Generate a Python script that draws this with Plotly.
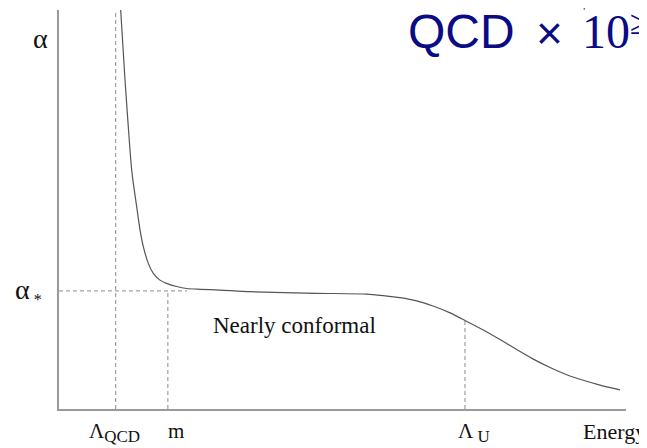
import plotly.graph_objects as go

# ---- data (arbitrary units) ----
energy = [1.088, 1.164, 1.252, 1.282, 1.310, 1.370, 1.429, 1.487, 1.575, 1.663, 1.781,
          1.899, 2.076, 2.252, 2.487, 2.840, 3.369, 4.545, 5.427, 5.720, 6.014, 6.309,
          6.596, 6.896, 7.160, 7.483, 7.778, 8.072, 8.365, 8.660, 8.954, 9.247, 9.541, 9.894]
alpha = [1.000, 0.825, 0.649, 0.599, 0.566, 0.507, 0.449, 0.407, 0.365, 0.340, 0.323,
         0.315, 0.307, 0.302, 0.300, 0.298, 0.294, 0.290, 0.288, 0.284, 0.279, 0.271,
         0.258, 0.241, 0.222, 0.198, 0.174, 0.149, 0.125, 0.104, 0.086, 0.072, 0.060, 0.048]

LAMBDA_QCD = 1.0
M_SCALE = 1.92
LAMBDA_U = 7.16
ALPHA_STAR = 0.296
ALPHA_AT_LU = 0.222
ALPHA_MEET = 2.26   # where the alpha_* guide meets the curve
X_MAX = 10.0
Y_MAX = 1.0
LABEL_X = 4.16      # centre of the "Nearly conformal" note

tick_vals = [LAMBDA_QCD, M_SCALE, LAMBDA_U]
tick_text = ["Λ<sub><span style='font-size:17px'>QCD</span></sub>", "m",
             "Λ<sub><span style='font-size:17px'> U</span></sub>"]

SERIF = "Liberation Serif, Times New Roman, serif"
SANS = "Liberation Sans, Arial, sans-serif"
NAVY = "#0b0b85"
GUIDE = "#8c8c8c"
TXT = "#111111"

# page has an 8px body margin: shrink the figure so the plot lands where the reference has it
W, H = 639, 440
L, R, T, B = 51, 21, 2, 39
PW, PH = W - L - R, H - T - B


def px(x):  # reference-pixel x -> paper
    return (x - 8 - L) / PW


def py(y):  # reference-pixel y -> paper
    return (H - B - (y - 8)) / PH


fig = go.Figure()

dash = dict(color=GUIDE, width=1, dash="4px,3px")
fig.add_trace(go.Scatter(x=[LAMBDA_QCD, LAMBDA_QCD], y=[0, Y_MAX], mode="lines", line=dash))
fig.add_trace(go.Scatter(x=[M_SCALE, M_SCALE], y=[0, ALPHA_STAR], mode="lines", line=dash))
fig.add_trace(go.Scatter(x=[0, ALPHA_MEET], y=[ALPHA_STAR, ALPHA_STAR], mode="lines", line=dash))
fig.add_trace(go.Scatter(x=[LAMBDA_U, LAMBDA_U], y=[0, ALPHA_AT_LU], mode="lines", line=dash))

fig.add_trace(go.Scatter(x=energy, y=alpha, mode="lines",
                         line=dict(color="#555555", width=1.2, shape="spline", smoothing=0.6)))

ann = []
# x-axis labels
offsets = {LAMBDA_QCD: -29, M_SCALE: -2, LAMBDA_U: -9}
for v, t in zip(tick_vals, tick_text):
    ann.append(dict(x=v, y=0, xref="x", yref="y", text=t, showarrow=False,
                    xanchor="left", yanchor="top", xshift=offsets[v], yshift=-8,
                    font=dict(family=SERIF, size=21, color=TXT)))
ann.append(dict(x=X_MAX, y=0, xref="x", yref="y", text="Energy", showarrow=False,
                xanchor="left", yanchor="top", xshift=-45, yshift=-8,
                font=dict(family=SERIF, size=22, color=TXT)))
# y-axis labels
ann.append(dict(x=0, y=Y_MAX, xref="x", yref="y", text="α", showarrow=False,
                xanchor="right", yanchor="middle", xshift=-9, yshift=-28,
                font=dict(family=SERIF, size=28, color=TXT)))
ann.append(dict(x=0, y=ALPHA_STAR, xref="x", yref="y",
                text="α<sub><span style='font-size:16px'> *</span></sub>", showarrow=False,
                xanchor="right", yanchor="middle", xshift=-15, yshift=0,
                font=dict(family=SERIF, size=28, color=TXT)))
# region label
ann.append(dict(x=LABEL_X, y=ALPHA_STAR, xref="x", yref="y",
                text="Nearly conformal", showarrow=False, xanchor="center", yanchor="middle",
                yshift=-35, font=dict(family=SERIF, size=23, color=TXT)))
# title fragments (cut off at top right)
ann.append(dict(x=px(406), y=py(31), xref="paper", yref="paper", text="QCD", showarrow=False,
                xanchor="left", yanchor="middle", font=dict(family=SANS, size=48, color=NAVY)))
ann.append(dict(x=px(549), y=py(33), xref="paper", yref="paper", text="×", showarrow=False,
                xanchor="center", yanchor="middle", font=dict(family=SANS, size=46, color=NAVY)))
ann.append(dict(x=px(580), y=py(31), xref="paper", yref="paper", text="10", showarrow=False,
                xanchor="left", yanchor="middle", font=dict(family=SERIF, size=48, color=NAVY)))
ann.append(dict(x=px(628), y=py(22), xref="paper", yref="paper", text="≥", showarrow=False,
                xanchor="left", yanchor="middle", font=dict(family=SERIF, size=34, color=NAVY)))
ann.append(dict(x=px(584), y=py(8), xref="paper", yref="paper", text="'", showarrow=False,
                xanchor="center", yanchor="top", yshift=5, font=dict(family=SANS, size=12, color=NAVY)))

fig.update_layout(
    width=W, height=H,
    margin=dict(l=L, r=R, t=T, b=B),
    paper_bgcolor="white", plot_bgcolor="white",
    showlegend=False,
    annotations=ann,
    xaxis=dict(range=[0, X_MAX], showgrid=False, zeroline=False, showticklabels=False,
               showline=True, linecolor="#9a9a9a", linewidth=1.5, ticks=""),
    yaxis=dict(range=[0, Y_MAX], showgrid=False, zeroline=False, showticklabels=False,
               showline=True, linecolor="#9a9a9a", linewidth=1.5, ticks=""),
)

fig.write_html("out.html")
